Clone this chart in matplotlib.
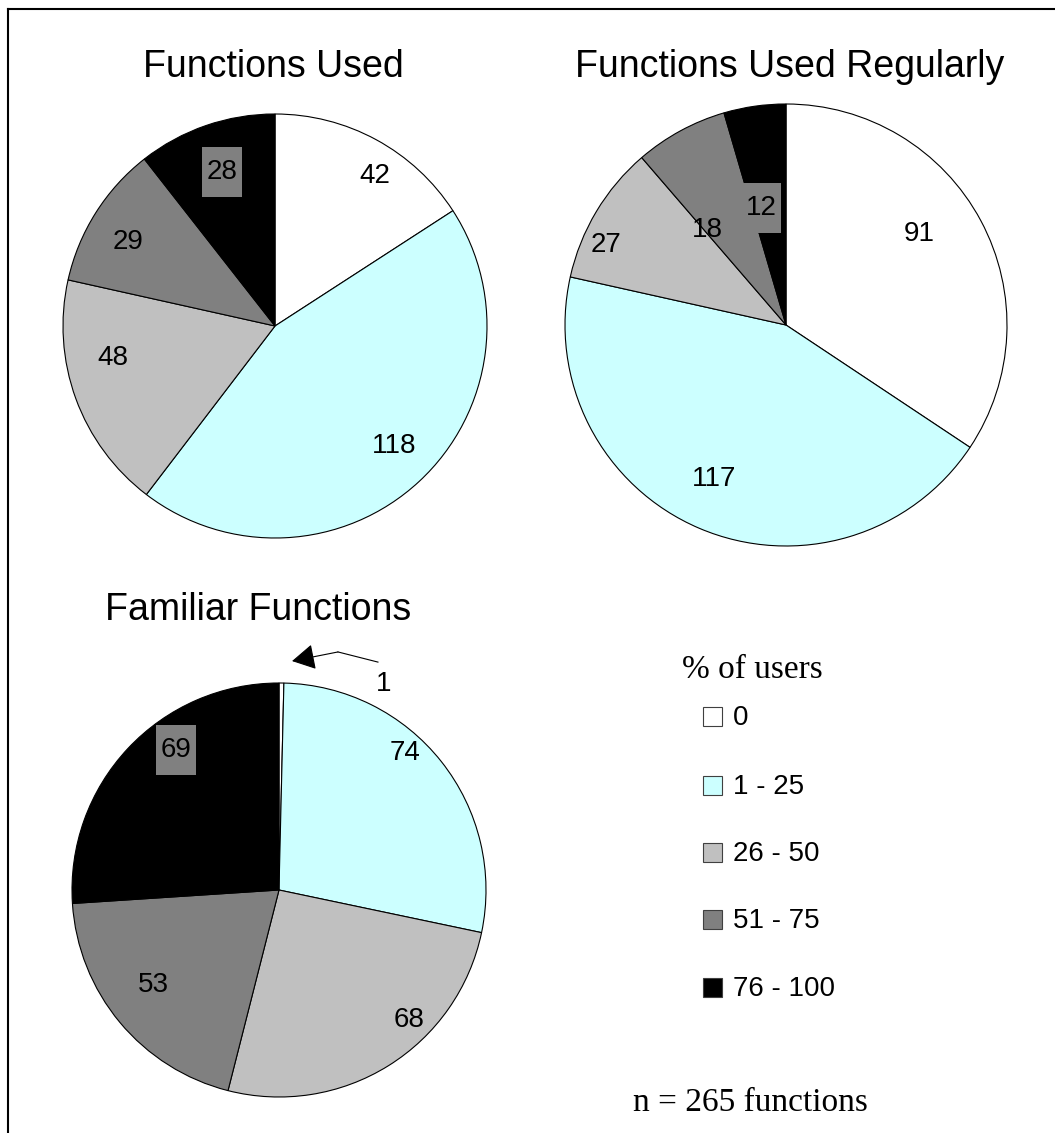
"""Three pie charts of function usage by share of users."""

import numpy
from matplotlib import pyplot
from matplotlib.lines import Line2D
from matplotlib.patches import Rectangle
from matplotlib.transforms import ScaledTranslation

# Data.
categories = ['0', '1 - 25', '26 - 50', '51 - 75', '76 - 100']
used = [42, 118, 48, 29, 28]
used_regularly = [91, 117, 27, 18, 12]
familiar = [1, 74, 68, 53, 69]
n_functions = 265

colors = ['white', '#CCFFFF', '#C0C0C0', '#808080', 'black']

W, H = 1055, 1133
sans = 'Liberation Sans'
serif = 'Liberation Serif'


def add_pie_axes(fig, cx, cy, r):
    # Square axes of side 2r pixels centred on (cx, cy) in pixel coordinates.
    ax = fig.add_axes([(cx - r) / W, (H - cy - r) / H, 2 * r / W, 2 * r / H])
    return ax


def draw_pie(fig, ax, values, dists, offsets, skip=()):
    wedges, _ = ax.pie(values, colors=colors, startangle=90, counterclock=False,
                       radius=1.0,
                       wedgeprops=dict(edgecolor='black', linewidth=0.8))
    ax.set_xlim(-1.0, 1.0)
    ax.set_ylim(-1.0, 1.0)
    ax.set_aspect('auto')
    ax.axis('off')
    for i, (w, v) in enumerate(zip(wedges, values)):
        if i in skip:
            continue
        theta = numpy.radians(0.5 * (w.theta1 + w.theta2) + offsets[i])
        x, y = dists[i] * numpy.cos(theta), dists[i] * numpy.sin(theta)
        if colors[i] == 'black':
            # Grey box (40 x 50 px) behind the label on the black slice.
            trans = fig.dpi_scale_trans + ScaledTranslation(x, y, ax.transData)
            ax.add_patch(Rectangle((-0.20, -0.25), 0.40, 0.50,
                                   facecolor='#808080', edgecolor='none',
                                   transform=trans, zorder=3))
        ax.text(x, y, str(v), ha='center', va='center', fontsize=20,
                family=sans, color='black', zorder=4)
    return wedges


fig = pyplot.figure(figsize=(W / 100, H / 100), dpi=100)

# Frame on the left and top edges.
fig.add_artist(Line2D([8 / W, 8 / W], [0.0, 1 - 9 / H], color='black',
                      linewidth=1.5, transform=fig.transFigure))
fig.add_artist(Line2D([8 / W, 1.0], [1 - 9 / H, 1 - 9 / H], color='black',
                      linewidth=1.5, transform=fig.transFigure))

# Functions used.
ax1 = add_pie_axes(fig, 275, 326, 212)
draw_pie(fig, ax1, used, [0.85, 0.80, 0.78, 0.80, 0.77], [-5, 2, -9, 2.5, 0])
fig.text(273 / W, 1 - 77 / H, 'Functions Used', ha='center', va='baseline',
         fontsize=27, family=sans)

# Functions used regularly.
ax2 = add_pie_axes(fig, 786, 325, 221)
draw_pie(fig, ax2, used_regularly, [0.73, 0.77, 0.89, 0.56, 0.54],
         [6, -2, 7, 11, 4])
fig.text(790 / W, 1 - 77 / H, 'Functions Used Regularly', ha='center',
         va='baseline', fontsize=27, family=sans)

# Familiar functions.
ax3 = add_pie_axes(fig, 279, 890, 207)
draw_pie(fig, ax3, familiar, [None, 0.90, 0.89, 0.76, 0.84],
         [0, 9, 13, -2.5, -10.7], skip=(0,))
fig.text(258 / W, 1 - 620 / H, 'Familiar Functions', ha='center',
         va='baseline', fontsize=27, family=sans)
# Call-out for the tiny slice.
ax3.text(0.505, 0.995, str(familiar[0]), ha='center', va='center',
         fontsize=20, family=sans, clip_on=False)
ax3.plot([0.478, 0.285], [1.101, 1.150], color='black', linewidth=0.8,
         clip_on=False)
ax3.annotate('', xy=(0.063, 1.106), xytext=(0.285, 1.150),
             arrowprops=dict(arrowstyle='-|>,head_length=0.8,head_width=0.45',
                             color='black', linewidth=0.8, mutation_scale=18,
                             shrinkA=0, shrinkB=0),
             annotation_clip=False)

# Legend, drawn by hand.
fig.text(752 / W, 1 - 678 / H, '% of users', ha='center', va='baseline',
         fontsize=24, family=serif)
row_y = [717, 786, 853, 920, 988]
for label, color, y in zip(categories, colors, row_y):
    fig.add_artist(Rectangle((703 / W, 1 - (y + 9) / H), 19 / W, 19 / H,
                             facecolor=color, edgecolor='#404040',
                             linewidth=0.8, transform=fig.transFigure))
    fig.text(733 / W, 1 - (y + 1) / H, label, ha='left', va='center',
             fontsize=20, family=sans)

fig.text(750 / W, 1 - 1111 / H, f'n = {n_functions} functions', ha='center',
         va='baseline', fontsize=24, family=serif)

fig.savefig('out.png', dpi=100)
